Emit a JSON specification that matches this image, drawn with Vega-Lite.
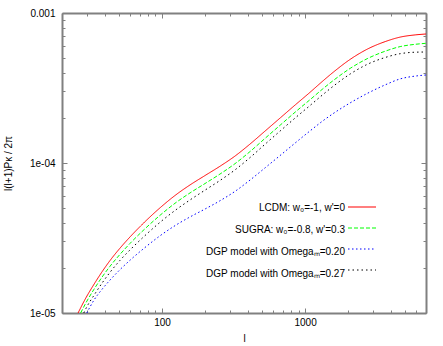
{
  "$schema": "https://vega.github.io/schema/vega-lite/v6.json",
  "width": 364,
  "height": 300,
  "autosize": "none",
  "padding": {"left": 62, "top": 13, "right": 17, "bottom": 33},
  "background": "white",
  "config": {
    "view": {"stroke": null},
    "font": "Liberation Sans",
    "axis": {
      "grid": false,
      "domainColor": "#808080",
      "domainWidth": 2,
      "tickColor": "#808080",
      "tickWidth": 1,
      "labelColor": "black",
      "labelFont": "Liberation Sans",
      "labelFontSize": 10,
      "labelOverlap": false,
      "labelFlush": false,
      "labelBound": false,
      "titleFont": "Liberation Sans",
      "titleFontSize": 10,
      "titleFontWeight": "normal",
      "titleColor": "black"
    }
  },
  "data": {
    "values": [
      {"model": "LCDM: w₀=-1, w'=0", "l": 25.9, "v": 1.0e-5},
      {"model": "LCDM: w₀=-1, w'=0", "l": 29.4, "v": 1.263e-5},
      {"model": "LCDM: w₀=-1, w'=0", "l": 33.5, "v": 1.556e-5},
      {"model": "LCDM: w₀=-1, w'=0", "l": 38.1, "v": 1.882e-5},
      {"model": "LCDM: w₀=-1, w'=0", "l": 43.3, "v": 2.236e-5},
      {"model": "LCDM: w₀=-1, w'=0", "l": 50.9, "v": 2.708e-5},
      {"model": "LCDM: w₀=-1, w'=0", "l": 59.8, "v": 3.216e-5},
      {"model": "LCDM: w₀=-1, w'=0", "l": 73.7, "v": 3.945e-5},
      {"model": "LCDM: w₀=-1, w'=0", "l": 96.9, "v": 5.027e-5},
      {"model": "LCDM: w₀=-1, w'=0", "l": 125.4, "v": 6.148e-5},
      {"model": "LCDM: w₀=-1, w'=0", "l": 157.1, "v": 7.145e-5},
      {"model": "LCDM: w₀=-1, w'=0", "l": 200, "v": 8.254e-5},
      {"model": "LCDM: w₀=-1, w'=0", "l": 254.6, "v": 9.521e-5},
      {"model": "LCDM: w₀=-1, w'=0", "l": 324.2, "v": 1.1134e-4},
      {"model": "LCDM: w₀=-1, w'=0", "l": 412.8, "v": 1.339e-4},
      {"model": "LCDM: w₀=-1, w'=0", "l": 525.6, "v": 1.634e-4},
      {"model": "LCDM: w₀=-1, w'=0", "l": 669.1, "v": 1.995e-4},
      {"model": "LCDM: w₀=-1, w'=0", "l": 852, "v": 2.436e-4},
      {"model": "LCDM: w₀=-1, w'=0", "l": 1085, "v": 2.965e-4},
      {"model": "LCDM: w₀=-1, w'=0", "l": 1316, "v": 3.489e-4},
      {"model": "LCDM: w₀=-1, w'=0", "l": 1571, "v": 4.024e-4},
      {"model": "LCDM: w₀=-1, w'=0", "l": 2065, "v": 4.906e-4},
      {"model": "LCDM: w₀=-1, w'=0", "l": 2716, "v": 5.736e-4},
      {"model": "LCDM: w₀=-1, w'=0", "l": 3628, "v": 6.446e-4},
      {"model": "LCDM: w₀=-1, w'=0", "l": 4620, "v": 6.907e-4},
      {"model": "LCDM: w₀=-1, w'=0", "l": 5884, "v": 7.145e-4},
      {"model": "LCDM: w₀=-1, w'=0", "l": 7000, "v": 7.244e-4},

      {"model": "SUGRA: w₀=-0.8, w'=0.3", "l": 27.0, "v": 1.0e-5},
      {"model": "SUGRA: w₀=-0.8, w'=0.3", "l": 29.4, "v": 1.169e-5},
      {"model": "SUGRA: w₀=-0.8, w'=0.3", "l": 33.5, "v": 1.441e-5},
      {"model": "SUGRA: w₀=-0.8, w'=0.3", "l": 38.1, "v": 1.735e-5},
      {"model": "SUGRA: w₀=-0.8, w'=0.3", "l": 43.3, "v": 2.048e-5},
      {"model": "SUGRA: w₀=-0.8, w'=0.3", "l": 50.9, "v": 2.462e-5},
      {"model": "SUGRA: w₀=-0.8, w'=0.3", "l": 59.8, "v": 2.911e-5},
      {"model": "SUGRA: w₀=-0.8, w'=0.3", "l": 73.7, "v": 3.543e-5},
      {"model": "SUGRA: w₀=-0.8, w'=0.3", "l": 96.9, "v": 4.481e-5},
      {"model": "SUGRA: w₀=-0.8, w'=0.3", "l": 125.4, "v": 5.454e-5},
      {"model": "SUGRA: w₀=-0.8, w'=0.3", "l": 157.1, "v": 6.32e-5},
      {"model": "SUGRA: w₀=-0.8, w'=0.3", "l": 200, "v": 7.3e-5},
      {"model": "SUGRA: w₀=-0.8, w'=0.3", "l": 254.6, "v": 8.447e-5},
      {"model": "SUGRA: w₀=-0.8, w'=0.3", "l": 324.2, "v": 9.908e-5},
      {"model": "SUGRA: w₀=-0.8, w'=0.3", "l": 412.8, "v": 1.193e-4},
      {"model": "SUGRA: w₀=-0.8, w'=0.3", "l": 525.6, "v": 1.461e-4},
      {"model": "SUGRA: w₀=-0.8, w'=0.3", "l": 669.1, "v": 1.786e-4},
      {"model": "SUGRA: w₀=-0.8, w'=0.3", "l": 852, "v": 2.182e-4},
      {"model": "SUGRA: w₀=-0.8, w'=0.3", "l": 1085, "v": 2.647e-4},
      {"model": "SUGRA: w₀=-0.8, w'=0.3", "l": 1316, "v": 3.095e-4},
      {"model": "SUGRA: w₀=-0.8, w'=0.3", "l": 1571, "v": 3.543e-4},
      {"model": "SUGRA: w₀=-0.8, w'=0.3", "l": 2065, "v": 4.272e-4},
      {"model": "SUGRA: w₀=-0.8, w'=0.3", "l": 2716, "v": 4.958e-4},
      {"model": "SUGRA: w₀=-0.8, w'=0.3", "l": 3628, "v": 5.563e-4},
      {"model": "SUGRA: w₀=-0.8, w'=0.3", "l": 4620, "v": 5.97e-4},
      {"model": "SUGRA: w₀=-0.8, w'=0.3", "l": 5884, "v": 6.184e-4},
      {"model": "SUGRA: w₀=-0.8, w'=0.3", "l": 7000, "v": 6.281e-4},

      {"model": "DGP model with Omegaₘ=0.20", "l": 29.8, "v": 1.0e-5},
      {"model": "DGP model with Omegaₘ=0.20", "l": 33.5, "v": 1.221e-5},
      {"model": "DGP model with Omegaₘ=0.20", "l": 38.1, "v": 1.439e-5},
      {"model": "DGP model with Omegaₘ=0.20", "l": 43.3, "v": 1.657e-5},
      {"model": "DGP model with Omegaₘ=0.20", "l": 50.9, "v": 1.947e-5},
      {"model": "DGP model with Omegaₘ=0.20", "l": 59.8, "v": 2.249e-5},
      {"model": "DGP model with Omegaₘ=0.20", "l": 73.7, "v": 2.667e-5},
      {"model": "DGP model with Omegaₘ=0.20", "l": 96.9, "v": 3.272e-5},
      {"model": "DGP model with Omegaₘ=0.20", "l": 125.4, "v": 3.861e-5},
      {"model": "DGP model with Omegaₘ=0.20", "l": 157.1, "v": 4.372e-5},
      {"model": "DGP model with Omegaₘ=0.20", "l": 200, "v": 4.936e-5},
      {"model": "DGP model with Omegaₘ=0.20", "l": 254.6, "v": 5.606e-5},
      {"model": "DGP model with Omegaₘ=0.20", "l": 324.2, "v": 6.476e-5},
      {"model": "DGP model with Omegaₘ=0.20", "l": 412.8, "v": 7.703e-5},
      {"model": "DGP model with Omegaₘ=0.20", "l": 525.6, "v": 9.29e-5},
      {"model": "DGP model with Omegaₘ=0.20", "l": 669.1, "v": 1.122e-4},
      {"model": "DGP model with Omegaₘ=0.20", "l": 852, "v": 1.359e-4},
      {"model": "DGP model with Omegaₘ=0.20", "l": 1085, "v": 1.639e-4},
      {"model": "DGP model with Omegaₘ=0.20", "l": 1316, "v": 1.894e-4},
      {"model": "DGP model with Omegaₘ=0.20", "l": 1571, "v": 2.135e-4},
      {"model": "DGP model with Omegaₘ=0.20", "l": 2065, "v": 2.516e-4},
      {"model": "DGP model with Omegaₘ=0.20", "l": 2716, "v": 2.907e-4},
      {"model": "DGP model with Omegaₘ=0.20", "l": 3628, "v": 3.317e-4},
      {"model": "DGP model with Omegaₘ=0.20", "l": 4620, "v": 3.636e-4},
      {"model": "DGP model with Omegaₘ=0.20", "l": 5884, "v": 3.796e-4},
      {"model": "DGP model with Omegaₘ=0.20", "l": 7000, "v": 3.861e-4},

      {"model": "DGP model with Omegaₘ=0.27", "l": 28.4, "v": 1.0e-5},
      {"model": "DGP model with Omegaₘ=0.27", "l": 29.4, "v": 1.072e-5},
      {"model": "DGP model with Omegaₘ=0.27", "l": 33.5, "v": 1.314e-5},
      {"model": "DGP model with Omegaₘ=0.27", "l": 38.1, "v": 1.582e-5},
      {"model": "DGP model with Omegaₘ=0.27", "l": 43.3, "v": 1.867e-5},
      {"model": "DGP model with Omegaₘ=0.27", "l": 50.9, "v": 2.245e-5},
      {"model": "DGP model with Omegaₘ=0.27", "l": 59.8, "v": 2.635e-5},
      {"model": "DGP model with Omegaₘ=0.27", "l": 73.7, "v": 3.192e-5},
      {"model": "DGP model with Omegaₘ=0.27", "l": 96.9, "v": 4.025e-5},
      {"model": "DGP model with Omegaₘ=0.27", "l": 125.4, "v": 4.883e-5},
      {"model": "DGP model with Omegaₘ=0.27", "l": 157.1, "v": 5.675e-5},
      {"model": "DGP model with Omegaₘ=0.27", "l": 200, "v": 6.597e-5},
      {"model": "DGP model with Omegaₘ=0.27", "l": 254.6, "v": 7.656e-5},
      {"model": "DGP model with Omegaₘ=0.27", "l": 324.2, "v": 9.009e-5},
      {"model": "DGP model with Omegaₘ=0.27", "l": 412.8, "v": 1.088e-4},
      {"model": "DGP model with Omegaₘ=0.27", "l": 525.6, "v": 1.335e-4},
      {"model": "DGP model with Omegaₘ=0.27", "l": 669.1, "v": 1.634e-4},
      {"model": "DGP model with Omegaₘ=0.27", "l": 852, "v": 1.995e-4},
      {"model": "DGP model with Omegaₘ=0.27", "l": 1085, "v": 2.421e-4},
      {"model": "DGP model with Omegaₘ=0.27", "l": 1316, "v": 2.831e-4},
      {"model": "DGP model with Omegaₘ=0.27", "l": 1571, "v": 3.246e-4},
      {"model": "DGP model with Omegaₘ=0.27", "l": 2065, "v": 3.92e-4},
      {"model": "DGP model with Omegaₘ=0.27", "l": 2716, "v": 4.543e-4},
      {"model": "DGP model with Omegaₘ=0.27", "l": 3628, "v": 5.051e-4},
      {"model": "DGP model with Omegaₘ=0.27", "l": 4620, "v": 5.354e-4},
      {"model": "DGP model with Omegaₘ=0.27", "l": 5884, "v": 5.478e-4},
      {"model": "DGP model with Omegaₘ=0.27", "l": 7000, "v": 5.495e-4}
    ]
  },
  "layer": [
    {
      "mark": {"type": "line", "strokeWidth": 1, "clip": true, "interpolate": "monotone"},
      "encoding": {
        "x": {
          "field": "l", "type": "quantitative",
          "scale": {"type": "log", "domain": [20, 7000]},
          "axis": {
            "orient": "bottom",
            "values": [20,30,40,50,60,70,80,90,100,200,300,400,500,600,700,800,900,1000,2000,3000,4000,5000,6000,7000],
            "format": "d",
            "labelExpr": "datum.value == 100 || datum.value == 1000 ? datum.label : ''",
            "tickSize": {"condition": {"test": "datum.value == 100 || datum.value == 1000", "value": -5}, "value": -3},
            "labelPadding": 9,
            "title": "l",
            "titlePadding": 4
          }
        },
        "y": {
          "field": "v", "type": "quantitative",
          "scale": {"type": "log", "domain": [0.00001, 0.001]},
          "axis": {
            "orient": "left",
            "values": [0.00001,0.00002,0.00003,0.00004,0.00005,0.00006,0.00007,0.00008,0.00009,0.0001,0.0002,0.0003,0.0004,0.0005,0.0006,0.0007,0.0008,0.0009,0.001],
            "labelExpr": "datum.value == 0.001 ? '0.001' : datum.value == 0.0001 ? '1e-04' : datum.value == 0.00001 ? '1e-05' : ''",
            "tickSize": {"condition": {"test": "datum.value == 0.001 || datum.value == 0.0001 || datum.value == 0.00001", "value": -5}, "value": -3},
            "labelPadding": 12,
            "title": "l(l+1)Pκ / 2π",
            "titlePadding": 16
          }
        },
        "color": {
          "field": "model", "type": "nominal",
          "scale": {
            "domain": ["LCDM: w₀=-1, w'=0", "SUGRA: w₀=-0.8, w'=0.3", "DGP model with Omegaₘ=0.20", "DGP model with Omegaₘ=0.27"],
            "range": ["#ff0000", "#00ff00", "#0000ff", "#000000"]
          },
          "legend": {
            "title": null, "orient": "none", "legendX": 286, "legendY": 180,
            "symbolSize": 784, "symbolStrokeWidth": 0,
            "labelAlign": "right", "labelOffset": -33, "rowPadding": 2, "padding": 0,
            "gridAlign": "none", "labelOpacity": 0,
            "labelFont": "Liberation Sans", "labelFontSize": 10, "labelLimit": 0,
            "encode": {
              "symbols": {
                "update": {
                  "fill": {"signal": "indexof(datum.value, 'LCDM') >= 0 ? '#ff0000' : indexof(datum.value, 'SUGRA') >= 0 ? '#00ff00' : indexof(datum.value, '0.20') >= 0 ? '#0000ff' : '#000000'"},
                  "shape": {"signal": "indexof(datum.value, 'LCDM') >= 0 ? 'M-1,-0.036H1V0.036H-1Z' : indexof(datum.value, 'SUGRA') >= 0 ? 'M-1,-0.036H-0.714V0.036H-1Z M-0.571,-0.036H-0.286V0.036H-0.571Z M-0.143,-0.036H0.143V0.036H-0.143Z M0.286,-0.036H0.571V0.036H0.286Z M0.714,-0.036H1V0.036H0.714Z' : indexof(datum.value, '0.20') >= 0 ? 'M-1,-0.036H-0.893V0.036H-1Z M-0.714,-0.036H-0.607V0.036H-0.714Z M-0.429,-0.036H-0.321V0.036H-0.429Z M-0.143,-0.036H-0.036V0.036H-0.143Z M0.143,-0.036H0.25V0.036H0.143Z M0.429,-0.036H0.536V0.036H0.429Z M0.714,-0.036H0.821V0.036H0.714Z' : 'M-1,-0.036H-0.893V0.036H-1Z M-0.679,-0.036H-0.571V0.036H-0.679Z M-0.357,-0.036H-0.25V0.036H-0.357Z M-0.036,-0.036H0.071V0.036H-0.036Z M0.286,-0.036H0.393V0.036H0.286Z M0.607,-0.036H0.714V0.036H0.607Z M0.929,-0.036H1V0.036H0.929Z'"}
                }
              }
            }
          }
        },
        "strokeDash": {
          "field": "model", "type": "nominal",
          "scale": {
            "domain": ["LCDM: w₀=-1, w'=0", "SUGRA: w₀=-0.8, w'=0.3", "DGP model with Omegaₘ=0.20", "DGP model with Omegaₘ=0.27"],
            "range": [[1, 0], [4, 2], [1.5, 2.5], [1.5, 3]]
          },
          "legend": null
        }
      }
    },
    {
      "mark": {"type": "line", "strokeOpacity": 0},
      "encoding": {
        "x": {
          "field": "l", "type": "quantitative",
          "scale": {"type": "log", "domain": [20, 7000]},
          "axis": {
            "orient": "top",
            "values": [20,30,40,50,60,70,80,90,100,200,300,400,500,600,700,800,900,1000,2000,3000,4000,5000,6000,7000],
            "labels": false,
            "tickSize": {"condition": {"test": "datum.value == 100 || datum.value == 1000", "value": -5}, "value": -3},
            "title": null
          }
        },
        "y": {
          "field": "v", "type": "quantitative",
          "scale": {"type": "log", "domain": [0.00001, 0.001]},
          "axis": {
            "orient": "right",
            "values": [0.00001,0.00002,0.00003,0.00004,0.00005,0.00006,0.00007,0.00008,0.00009,0.0001,0.0002,0.0003,0.0004,0.0005,0.0006,0.0007,0.0008,0.0009,0.001],
            "labels": false,
            "tickSize": {"condition": {"test": "datum.value == 0.001 || datum.value == 0.0001 || datum.value == 0.00001", "value": -5}, "value": -3},
            "title": null
          }
        },
        "color": {
          "field": "model", "type": "nominal",
          "scale": {
            "domain": ["LCDM: w₀=-1, w'=0", "SUGRA: w₀=-0.8, w'=0.3", "DGP model with Omegaₘ=0.20", "DGP model with Omegaₘ=0.27"],
            "range": ["#000000", "#000000", "#000000", "#000000"]
          },
          "legend": {
            "title": null, "orient": "none", "legendX": 286, "legendY": 180,
            "symbolType": "stroke", "symbolSize": 784, "symbolOpacity": 0,
            "labelAlign": "right", "labelOffset": -33, "rowPadding": 2, "padding": 0,
            "gridAlign": "none",
            "labelFont": "Liberation Sans", "labelFontSize": 10, "labelColor": "black", "labelLimit": 0
          }
        }
      }
    }
  ],
  "resolve": {
    "axis": {"x": "independent", "y": "independent"},
    "scale": {"color": "independent"},
    "legend": {"color": "independent"}
  }
}
